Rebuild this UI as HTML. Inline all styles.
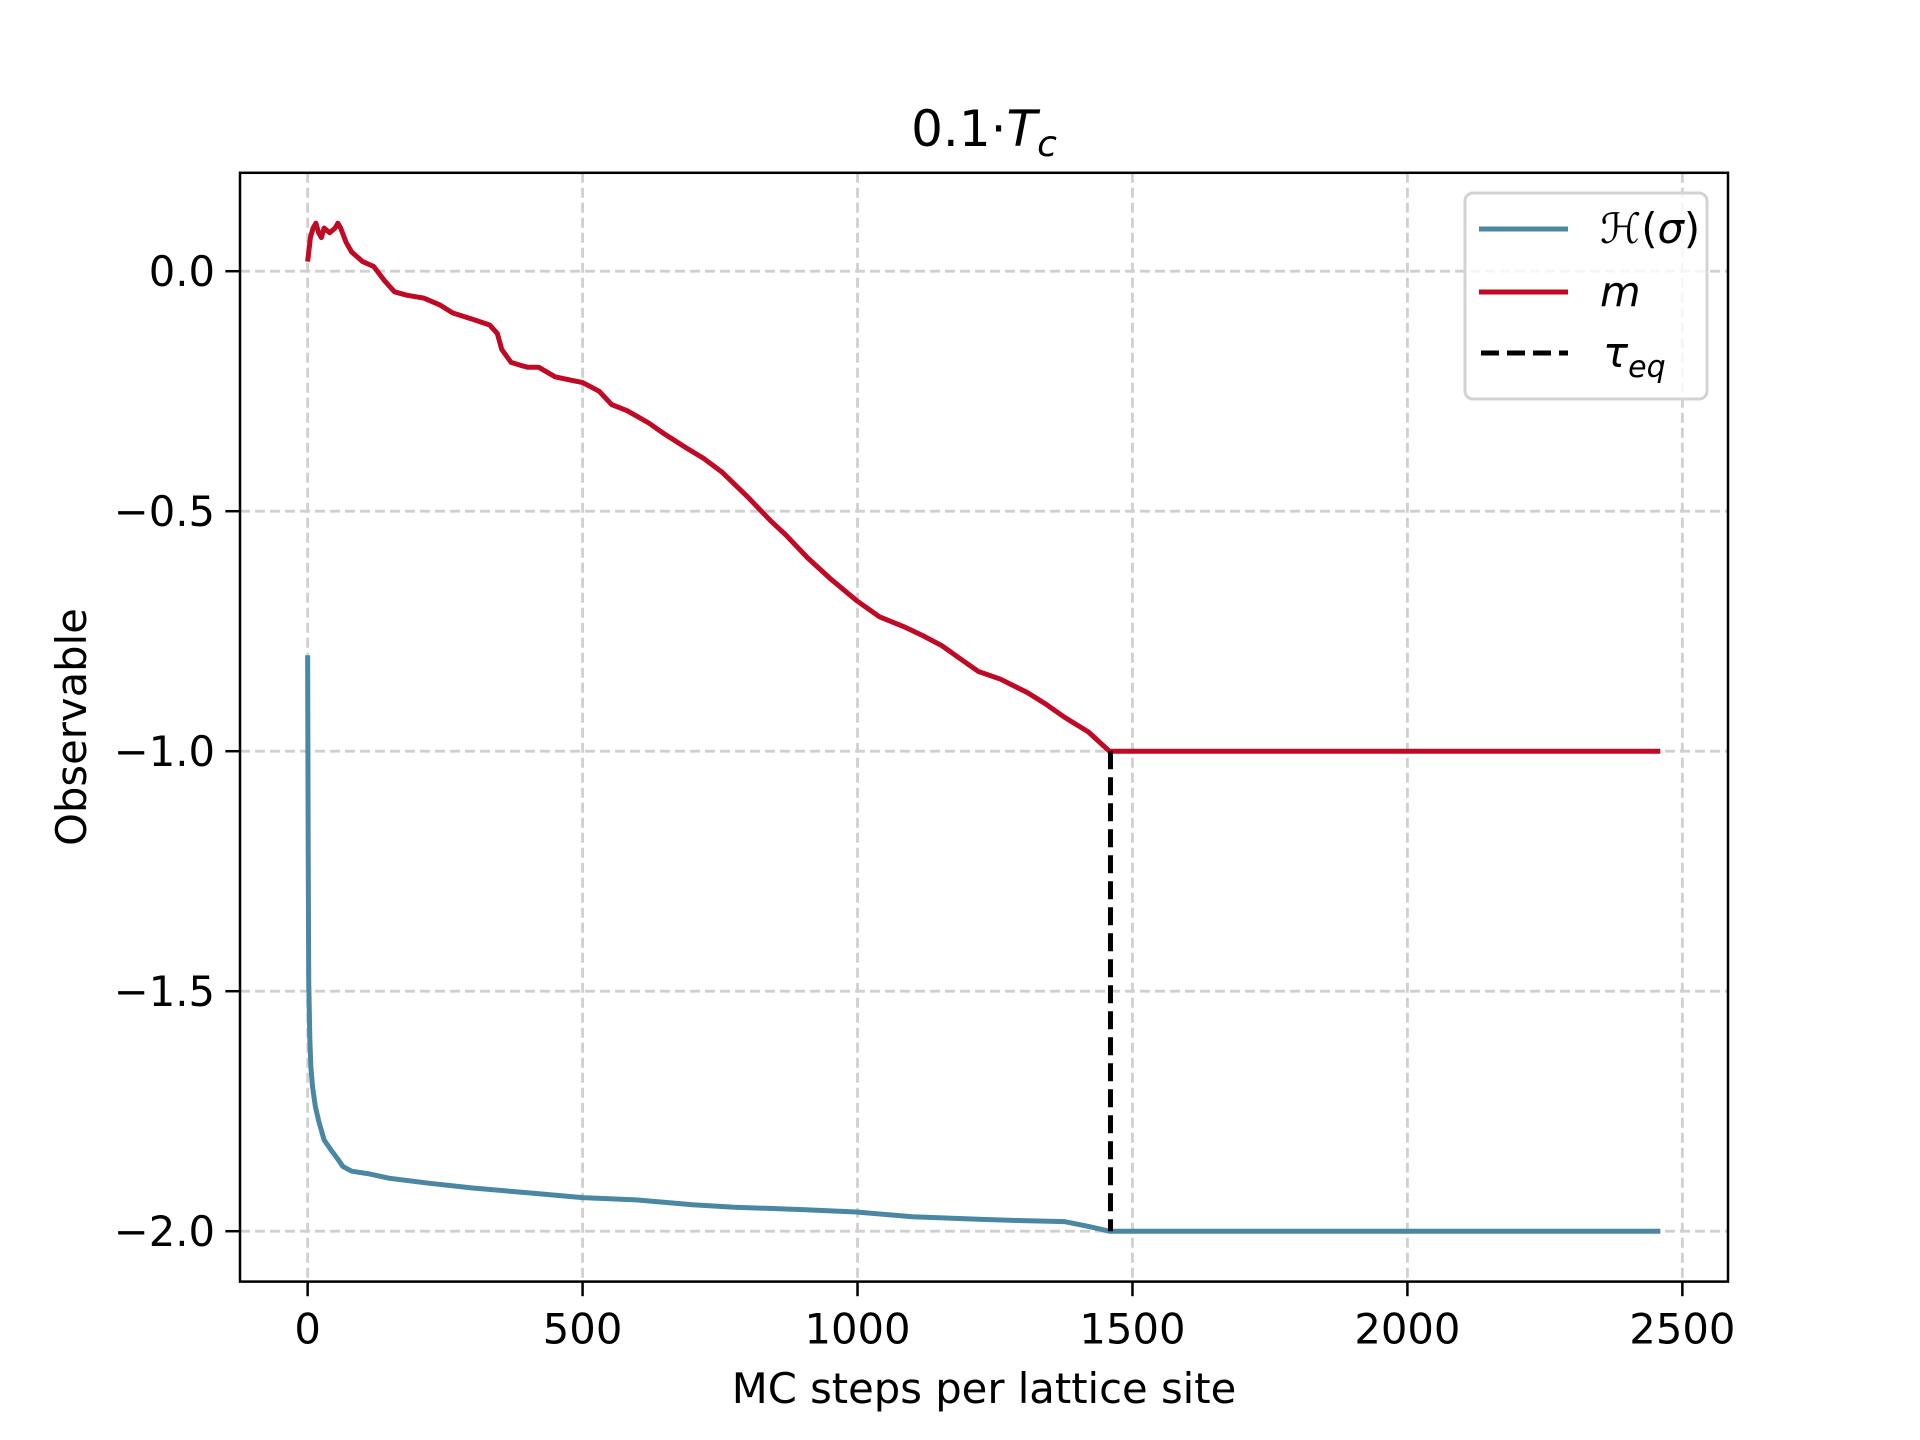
<!DOCTYPE html>
<html><head><meta charset="utf-8"><style>
html,body{margin:0;padding:0;background:#fff}
svg{display:block;font-family:"DejaVu Sans","Liberation Sans",sans-serif}
</style></head><body>
<svg id="chart" width="1920" height="1440" viewBox="0 0 1920 1440" xmlns="http://www.w3.org/2000/svg">
<rect width="1920" height="1440" fill="#fff"/>
<g id="grid"></g>
<g id="series"></g>
<rect x="240" y="172.8" width="1488" height="1108.8" fill="none" stroke="#000" stroke-width="2.5"/>
<g id="ticks"></g>
<text x="984" y="146" font-size="50" text-anchor="middle">0.1·<tspan font-style="italic">T</tspan><tspan font-style="italic" font-size="36" dy="10">c</tspan></text>
<text x="984" y="1403" font-size="41.7" text-anchor="middle">MC steps per lattice site</text>
<text x="86" y="727" font-size="41.7" text-anchor="middle" transform="rotate(-90 86 727)">Observable</text>
<g>
<rect x="1465" y="193" width="242" height="206" rx="8" fill="#fff" fill-opacity="0.8" stroke="#d3d3d3" stroke-width="3"/>
<line x1="1479" y1="229" x2="1568" y2="229" stroke="#4a87a3" stroke-width="5"/>
<text x="1600" y="243" font-size="41.7">ℋ(<tspan font-style="italic">σ</tspan>)</text>
<line x1="1479" y1="292" x2="1568" y2="292" stroke="#c00a25" stroke-width="5"/>
<text x="1600" y="306" font-size="41.7" font-style="italic">m</text>
<line x1="1481" y1="353" x2="1568" y2="353" stroke="#000" stroke-width="5" stroke-dasharray="18,8"/>
<text x="1603" y="367" font-size="41.7" font-style="italic">τ<tspan font-size="30" dy="10">eq</tspan></text>
</g>
</svg>
<script>
const xTicks=[0,500,1000,1500,2000,2500];
const xTickLabels=["0","500","1000","1500","2000","2500"];
const yTicks=[0,-0.5,-1,-1.5,-2];
const yTickLabels=["0.0","\u22120.5","\u22121.0","\u22121.5","\u22122.0"];
const tauEq=1460;
const mX=[0,5,10,15,20,25,30,40,50,55,60,70,80,90,100,120,140,158,180,211,240,264,300,331,345,353,370,387,400,420,450,470,500,530,553,580,620,650,687,720,753,800,842,870,909,950,998,1040,1087,1120,1153,1190,1220,1260,1309,1340,1376,1420,1458,1800,2200,2460];
const mY=[0.02,0.07,0.09,0.1,0.08,0.07,0.09,0.08,0.09,0.1,0.09,0.06,0.04,0.03,0.02,0.01,-0.02,-0.043,-0.05,-0.056,-0.07,-0.087,-0.1,-0.112,-0.13,-0.163,-0.19,-0.196,-0.2,-0.2,-0.22,-0.225,-0.232,-0.25,-0.278,-0.29,-0.316,-0.34,-0.367,-0.39,-0.418,-0.47,-0.52,-0.55,-0.597,-0.64,-0.686,-0.72,-0.742,-0.76,-0.78,-0.81,-0.834,-0.85,-0.878,-0.9,-0.929,-0.96,-1.0,-1.0,-1.0,-1.0];
const hX=[0,1,2,4,6,9,14,20,30,42,55,64,80,109,150,220,300,400,500,600,700,776,900,998,1100,1220,1300,1376,1420,1458,1800,2200,2460];
const hY=[-0.8,-1.2,-1.48,-1.6,-1.66,-1.7,-1.74,-1.77,-1.81,-1.83,-1.85,-1.865,-1.875,-1.88,-1.89,-1.9,-1.91,-1.92,-1.93,-1.935,-1.945,-1.95,-1.955,-1.96,-1.97,-1.975,-1.978,-1.98,-1.99,-2.0,-2.0,-2.0,-2.0];
const X0=240,X1=1728,Y0=172.8,Y1=1281.6;
const xMin=-123,xMax=2583,yMin=-2.105,yMax=0.205;
const sx=v=>X0+(v-xMin)/(xMax-xMin)*(X1-X0);
const sy=v=>Y1-(v-yMin)/(yMax-yMin)*(Y1-Y0);
const NS="http://www.w3.org/2000/svg";
function mk(tag,attrs,parent){const e=document.createElementNS(NS,tag);for(const k in attrs)e.setAttribute(k,attrs[k]);parent.appendChild(e);return e;}
const grid=document.getElementById('grid'),ticks=document.getElementById('ticks'),series=document.getElementById('series');
xTicks.forEach((t,i)=>{
 const g=mk('line',{x1:sx(t),x2:sx(t),y1:Y0,y2:Y1,stroke:'#d0d0d0','stroke-width':2.8,'stroke-dasharray':'10,5'},grid);
 
 
 const tk=mk('line',{x1:sx(t),x2:sx(t),y1:Y1,y2:Y1+14.6,stroke:'#000','stroke-width':2.5},ticks);
 
 
 const tx=mk('text',{x:sx(t),y:Y1+62,'font-size':41.7,'text-anchor':'middle'},ticks);
 tx.textContent=xTickLabels[i];
 
 
});
yTicks.forEach((t,i)=>{
 const g=mk('line',{x1:X0,x2:X1,y1:sy(t),y2:sy(t),stroke:'#d0d0d0','stroke-width':2.8,'stroke-dasharray':'10,5'},grid);
 
 
 const tk=mk('line',{x1:X0-14.6,x2:X0,y1:sy(t),y2:sy(t),stroke:'#000','stroke-width':2.5},ticks);
 
 
 const tx=mk('text',{x:X0-25,y:sy(t)+15,'font-size':41.7,'text-anchor':'end'},ticks);
 tx.textContent=yTickLabels[i];
 
 
});
const hp=mk('polyline',{points:hX.map((x,i)=>sx(x)+','+sy(hY[i])).join(' '),fill:'none',stroke:'#4a87a3','stroke-width':5,'stroke-linejoin':'round'},series);


const mp=mk('polyline',{points:mX.map((x,i)=>sx(x)+','+sy(mY[i])).join(' '),fill:'none',stroke:'#c00a25','stroke-width':5,'stroke-linejoin':'round'},series);


const tl=mk('line',{x1:sx(tauEq),x2:sx(tauEq),y1:sy(-1),y2:sy(-2),stroke:'#000','stroke-width':5,'stroke-dasharray':'18,8'},series);


</script>
</body></html>
